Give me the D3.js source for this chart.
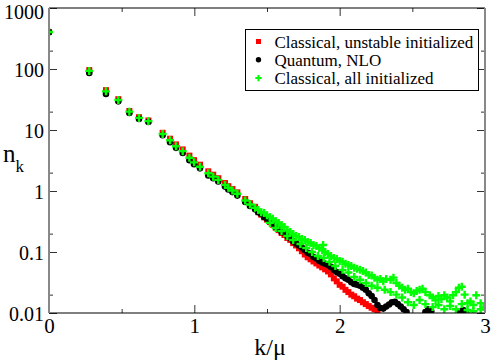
<!DOCTYPE html>
<html>
<head>
<meta charset="utf-8">
<script src="https://cdn.jsdelivr.net/npm/d3@7"></script>
<style>
  html, body { margin: 0; padding: 0; background: #fff; }
  #chart { width: 491px; height: 364px; }
</style>
</head>
<body>
<div id="chart"></div>
<script>
// tick values and labels
let xMajor = [0, 1, 2, 3];
let xMinor = [0.5, 1.5, 2.5];
let yMajor = [0.01, 0.1, 1, 10, 100, 1000];
let yMinor = [0.02, 0.2, 2, 20, 200];
let yLabels = ["0.01", "0.1", "1", "10", "100", "1000"];

let legendNames = ["Classical, unstable initialized", "Quantum, NLO", "Classical, all initialized"];

// [k/mu, n_k]
let classicalUnstable = [
  [0, 405], [0.277, 96], [0.392, 45], [0.477, 32], [0.553, 20.5], [0.619, 16.2], [0.684, 14.3],
  [0.782, 9.0], [0.833, 7.2], [0.874, 5.8], [0.92, 4.8], [0.966, 3.8], [0.998, 3.2], [1.039, 2.7],
  [1.096, 2.1], [1.13, 1.85], [1.165, 1.62], [1.211, 1.35], [1.234, 1.2], [1.262, 1.08], [1.296, 0.95],
  [1.35, 0.74], [1.383, 0.63], [1.418, 0.55], [1.44, 0.45], [1.46, 0.41], [1.48, 0.37], [1.5, 0.34],
  [1.52, 0.31], [1.54, 0.28], [1.56, 0.25], [1.58, 0.228], [1.6, 0.205], [1.62, 0.19], [1.64, 0.17],
  [1.66, 0.158], [1.68, 0.14], [1.7, 0.128], [1.72, 0.115], [1.74, 0.103], [1.76, 0.091], [1.78, 0.082],
  [1.8, 0.076], [1.82, 0.07], [1.84, 0.065], [1.86, 0.06], [1.88, 0.056], [1.9, 0.052], [1.92, 0.048],
  [1.94, 0.043], [1.96, 0.037], [1.98, 0.033], [2.0, 0.029], [2.02, 0.027], [2.04, 0.024], [2.06, 0.022],
  [2.08, 0.02], [2.1, 0.0188], [2.12, 0.0172], [2.14, 0.0163], [2.16, 0.015], [2.18, 0.014], [2.2, 0.013],
  [2.22, 0.0122], [2.24, 0.0115], [2.26, 0.0107]
];

let quantumNLO = [
  [0, 400], [0.277, 86], [0.392, 39], [0.477, 29.5], [0.553, 19], [0.619, 15.2], [0.684, 13.5],
  [0.782, 8.2], [0.833, 6.3], [0.874, 5.1], [0.92, 4.2], [0.966, 3.2], [0.998, 2.75], [1.039, 2.35],
  [1.096, 1.8], [1.13, 1.62], [1.165, 1.43], [1.211, 1.18], [1.234, 1.06], [1.262, 0.96], [1.296, 0.84],
  [1.35, 0.66], [1.383, 0.57], [1.418, 0.5], [1.44, 0.45], [1.46, 0.42], [1.48, 0.375], [1.5, 0.35],
  [1.52, 0.32], [1.54, 0.29], [1.56, 0.257], [1.58, 0.238], [1.6, 0.213], [1.62, 0.205], [1.64, 0.183],
  [1.66, 0.17], [1.68, 0.15], [1.7, 0.138], [1.72, 0.128], [1.74, 0.118], [1.76, 0.108], [1.78, 0.097],
  [1.8, 0.093], [1.82, 0.083], [1.84, 0.078], [1.86, 0.071], [1.88, 0.067], [1.9, 0.064], [1.92, 0.061],
  [1.94, 0.057], [1.96, 0.051], [1.98, 0.047], [2.0, 0.044], [2.02, 0.04], [2.04, 0.037], [2.06, 0.035],
  [2.08, 0.032], [2.1, 0.03], [2.12, 0.029], [2.14, 0.028], [2.16, 0.026], [2.18, 0.024], [2.2, 0.021],
  [2.22, 0.019], [2.24, 0.0163], [2.26, 0.0135], [2.28, 0.0121], [2.3, 0.0118], [2.32, 0.0128],
  [2.34, 0.0138], [2.36, 0.015], [2.38, 0.0152], [2.4, 0.014], [2.42, 0.0128], [2.44, 0.0115],
  [2.46, 0.0104], [2.59, 0.0104], [2.61, 0.0115], [2.63, 0.0107], [2.83, 0.0104], [2.85, 0.0112], [2.87, 0.0101]
];

let classicalAll = [
  [0, 405], [0.277, 93], [0.392, 43], [0.477, 31], [0.553, 20], [0.619, 15.8], [0.684, 14],
  [0.782, 8.6], [0.833, 6.8], [0.874, 5.4], [0.92, 4.5], [0.966, 3.5], [0.998, 2.95], [1.039, 2.5],
  [1.096, 1.95], [1.13, 1.72], [1.165, 1.52], [1.211, 1.26], [1.234, 1.13], [1.262, 1.02], [1.296, 0.9],
  [1.35, 0.7], [1.383, 0.6], [1.418, 0.53], [1.44, 0.49], [1.46, 0.45], [1.48, 0.435], [1.5, 0.4],
  [1.52, 0.375], [1.54, 0.35], [1.56, 0.32], [1.58, 0.3], [1.6, 0.277], [1.62, 0.257], [1.64, 0.23],
  [1.66, 0.213], [1.68, 0.197], [1.7, 0.183], [1.72, 0.176], [1.74, 0.163], [1.76, 0.157], [1.78, 0.146],
  [1.8, 0.14], [1.82, 0.13], [1.84, 0.125], [1.86, 0.116], [1.88, 0.108], [1.886, 0.13], [1.9, 0.1],
  [1.92, 0.093], [1.94, 0.086], [1.96, 0.08], [1.98, 0.077], [2.0, 0.071], [2.02, 0.069], [2.04, 0.064],
  [2.06, 0.061], [2.08, 0.059], [2.1, 0.055], [2.12, 0.053], [2.14, 0.051], [2.16, 0.049], [2.18, 0.046],
  [2.2, 0.042], [2.22, 0.041], [2.24, 0.038], [2.26, 0.035], [2.28, 0.036], [2.3, 0.033], [2.32, 0.036],
  [2.35, 0.035], [2.37, 0.038], [2.39, 0.031], [2.41, 0.028], [2.43, 0.026], [2.45, 0.024], [2.47, 0.025],
  [2.49, 0.022], [2.51, 0.021], [2.53, 0.023], [2.55, 0.024], [2.57, 0.025], [2.59, 0.022], [2.62, 0.0195],
  [2.64, 0.018], [2.66, 0.0163], [2.68, 0.019], [2.7, 0.017], [2.72, 0.0195], [2.74, 0.018], [2.76, 0.0155],
  [2.78, 0.0195], [2.8, 0.022], [2.82, 0.026], [2.84, 0.027], [2.86, 0.02], [2.88, 0.0145], [2.9, 0.0155],
  [2.92, 0.0135], [2.94, 0.0195], [2.97, 0.0145], [2.99, 0.0125],
  // lower edge of the green band
  [1.52, 0.3], [1.56, 0.247], [1.6, 0.22], [1.64, 0.183], [1.68, 0.157], [1.73, 0.135], [1.77, 0.116],
  [1.81, 0.1], [1.85, 0.086], [1.89, 0.08], [1.93, 0.069], [1.97, 0.059], [2.02, 0.051], [2.06, 0.046],
  [2.1, 0.039], [2.14, 0.035], [2.18, 0.031], [2.22, 0.028], [2.26, 0.026], [2.31, 0.024], [2.35, 0.022],
  [2.39, 0.02], [2.43, 0.018], [2.47, 0.015], [2.51, 0.0135], [2.55, 0.0163], [2.59, 0.014], [2.64, 0.0125],
  [2.68, 0.0135], [2.72, 0.0115], [2.76, 0.013], [2.8, 0.0115], [2.84, 0.014], [2.88, 0.0112],
  [2.92, 0.0107], [2.97, 0.0115]
];

let serif = "Liberation Serif";
let width = 491;
let height = 364;
let margin = { top: 8, right: 6, bottom: 51, left: 49 };

let svg = d3.select("#chart")
  .append("svg")
  .attr("width", width)
  .attr("height", height)
  .style("display", "block");

let x = d3.scaleLinear().domain([0, 3]).range([margin.left, width - margin.right]);
let y = d3.scaleLog().domain([0.01, 1000]).range([height - margin.bottom, margin.top]);

let [x0, x1] = x.range();
let [y0, y1] = y.range();

svg.append("clipPath")
  .attr("id", "plot-clip")
  .append("rect")
  .attr("x", x0)
  .attr("y", y1)
  .attr("width", x1 - x0)
  .attr("height", y0 - y1);

// ticks, all pointing into the plot
function drawTicks(axis, pos, values, size, labels) {
  let g = svg.append("g")
    .attr("transform", pos)
    .call(axis.tickValues(values).tickSize(-size).tickPadding(labels ? 5 : 0)
      .tickFormat((d, i) => (labels ? labels[i] : "")));
  g.attr("font-family", serif).attr("font-size", 21);
  g.select(".domain").remove();
  g.selectAll("line").attr("stroke", "#333").attr("stroke-width", 1);
  g.selectAll("text").attr("fill", "#000");
  return g;
}

drawTicks(d3.axisBottom(x), `translate(0,${y0})`, xMajor, 8, xMajor.map(String))
  .selectAll("text").attr("dy", "0.7em");
drawTicks(d3.axisBottom(x), `translate(0,${y0})`, xMinor, 4);
drawTicks(d3.axisTop(x), `translate(0,${y1})`, xMajor, 8);
drawTicks(d3.axisTop(x), `translate(0,${y1})`, xMinor, 4);
drawTicks(d3.axisLeft(y), `translate(${x0},0)`, yMajor, 8, yLabels)
  .attr("font-size", 20)
  .selectAll("text")
  .attr("dy", (d) => (d === 1000 ? "0.5em" : "0.38em"));
drawTicks(d3.axisLeft(y), `translate(${x0},0)`, yMinor, 4);
drawTicks(d3.axisRight(y), `translate(${x1},0)`, yMajor, 8);
drawTicks(d3.axisRight(y), `translate(${x1},0)`, yMinor, 4);

// markers
let plot = svg.append("g").attr("clip-path", "url(#plot-clip)");

let sq = 6;
plot.append("g")
  .selectAll("rect")
  .data(classicalUnstable)
  .join("rect")
  .attr("x", (d) => x(d[0]) - sq / 2)
  .attr("y", (d) => y(d[1]) - sq / 2)
  .attr("width", sq)
  .attr("height", sq)
  .attr("fill", "#ff0000");

plot.append("g")
  .selectAll("circle")
  .data(quantumNLO)
  .join("circle")
  .attr("cx", (d) => x(d[0]))
  .attr("cy", (d) => y(d[1]))
  .attr("r", 3.3)
  .attr("fill", "#000");

let plus = (s) => `M${-s},0H${s}M0,${-s}V${s}`;
plot.append("g")
  .selectAll("path")
  .data(classicalAll)
  .join("path")
  .attr("transform", (d) => `translate(${x(d[0])},${y(d[1])})`)
  .attr("d", plus(4))
  .attr("stroke", "#00ff00")
  .attr("stroke-width", 2.4)
  .attr("fill", "none");

// frame: grey sides, black top and bottom
svg.append("line").attr("x1", x0).attr("x2", x1).attr("y1", y1).attr("y2", y1)
  .attr("stroke", "#000").attr("stroke-width", 1.2);
svg.append("line").attr("x1", x0).attr("x2", x1).attr("y1", y0).attr("y2", y0)
  .attr("stroke", "#000").attr("stroke-width", 1.2);
svg.append("line").attr("x1", x0).attr("x2", x0).attr("y1", y1).attr("y2", y0)
  .attr("stroke", "#888").attr("stroke-width", 2);
svg.append("line").attr("x1", x1).attr("x2", x1).attr("y1", y1).attr("y2", y0)
  .attr("stroke", "#888").attr("stroke-width", 2);

// axis titles
svg.append("text")
  .attr("x", (x0 + x1) / 2 + 3)
  .attr("y", 355)
  .attr("text-anchor", "middle")
  .attr("font-family", serif)
  .attr("font-size", 24)
  .text("k/\u03bc");

let ylab = svg.append("text")
  .attr("x", 3)
  .attr("y", 162)
  .attr("font-family", serif)
  .attr("font-size", 25);
ylab.append("tspan").text("n");
ylab.append("tspan").attr("font-size", 17).attr("dy", 10).text("k");

// legend
let legend = svg.append("g").attr("transform", "translate(245.5,29.5)");
legend.append("rect")
  .attr("width", 233)
  .attr("height", 61)
  .attr("fill", "#fff")
  .attr("stroke", "#000")
  .attr("stroke-width", 1);

let rows = legend.selectAll("g.row")
  .data(legendNames)
  .join("g")
  .attr("class", "row")
  .attr("transform", (d, i) => `translate(13,${12 + i * 18.3})`);

rows.filter((d, i) => i === 0).append("rect")
  .attr("x", -2.5).attr("y", -2.5).attr("width", 5).attr("height", 5).attr("fill", "#ff0000");
rows.filter((d, i) => i === 1).append("circle")
  .attr("r", 2.7).attr("fill", "#000");
rows.filter((d, i) => i === 2).append("path")
  .attr("d", plus(3.2)).attr("stroke", "#00ff00").attr("stroke-width", 2).attr("fill", "none");

rows.append("text")
  .attr("x", 16)
  .attr("y", 6)
  .attr("font-family", serif)
  .attr("font-size", 17)
  .text((d) => d);
</script>
</body>
</html>
